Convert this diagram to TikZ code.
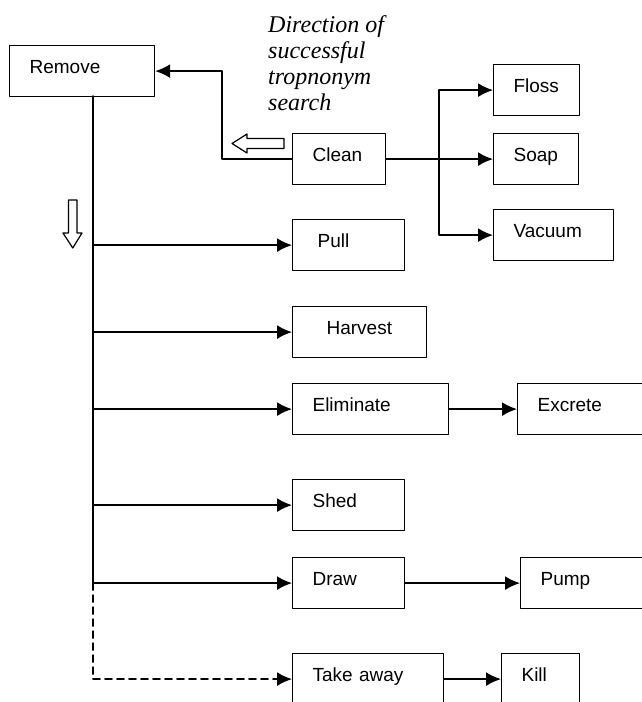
\documentclass[tikz,border=0pt]{standalone}
\usepackage{fontspec}
\setmainfont{Liberation Sans}
\newfontfamily\notefont{Liberation Serif}
\usetikzlibrary{arrows.meta}

\begin{document}
\begin{tikzpicture}[line cap=round,line join=round, x=1pt,y=-1pt,
  wordbox/.style={draw, line width=1.2pt, anchor=north west, align=left, inner xsep=20pt, inner ysep=0pt, minimum height=51pt, text depth=8pt, text width=#1, font=\fontsize{19}{22}\selectfont},
  link/.style={line width=1.7pt},
  arr/.style={link, -{Latex[length=15pt, width=14pt]}},
  hollow/.style={draw, line width=1.2pt, fill=white}]
\useasboundingbox (0,0) rectangle (642,702);
\clip (0,0) rectangle (642,702);
\node[anchor=north west, inner sep=0pt, align=left, font=\notefont\itshape\fontsize{24}{26}\selectfont] (note) at (268,15.5) {Direction of\\successful\\tropnonym\\search};
\node[wordbox=105pt] (remove) at (9,45) {Remove};
\node[wordbox=53pt] (clean) at (292,133) {Clean};
\node[wordbox=46pt] (floss) at (493,64) {Floss};
\node[wordbox=45pt] (soap) at (493,133) {Soap};
\node[wordbox=80pt] (vacuum) at (493,209) {Vacuum};
\node[wordbox=62pt, inner xsep=25pt] (pull) at (292,219) {Pull};
\node[wordbox=66pt, inner xsep=34pt] (harvest) at (292,306) {Harvest};
\node[wordbox=116pt] (eliminate) at (292,383) {Eliminate};
\node[wordbox=100pt] (excrete) at (517,383) {Excrete};
\node[wordbox=72pt] (shed) at (292,479) {Shed};
\node[wordbox=72pt] (drw) at (292,557) {Draw};
\node[wordbox=100pt] (pump) at (520,557) {Pump};
\node[wordbox=111pt] (takeaway) at (292,653) {Take away};
\node[wordbox=38pt] (kill) at (501,653) {Kill};
\draw[arr] (clean.west) -- ++(-70,0) |- (remove.east);
\draw[arr] (clean.east) -- (soap.west);
\coordinate (fork) at (439,158.5);
\draw[arr] (fork) |- (floss.west);
\draw[arr] (fork) |- (vacuum.west);
\coordinate (trunk) at (93,96);
\draw[link] (trunk) -- (trunk |- drw.west);
\foreach \n in {pull,harvest,eliminate,shed,drw}
  \draw[arr] (trunk |- \n.west) -- (\n.west);
\draw[arr, dash pattern=on 7pt off 5pt] (trunk |- drw.west) |- (takeaway.west);
\draw[arr] (eliminate.east) -- (excrete.west);
\draw[arr] (drw.east) -- (pump.west);
\draw[arr] (takeaway.east) -- (kill.west);
\draw[hollow] (284,138.5) -- (247,138.5) -- (247,134) -- (232,143.5) -- (247,153) -- (247,148.5) -- (284,148.5) -- cycle;
\draw[hollow] (68.5,200) -- (68.5,233) -- (63,233) -- (72.75,248) -- (82,233) -- (77,233) -- (77,200) -- cycle;
\end{tikzpicture}
\end{document}
